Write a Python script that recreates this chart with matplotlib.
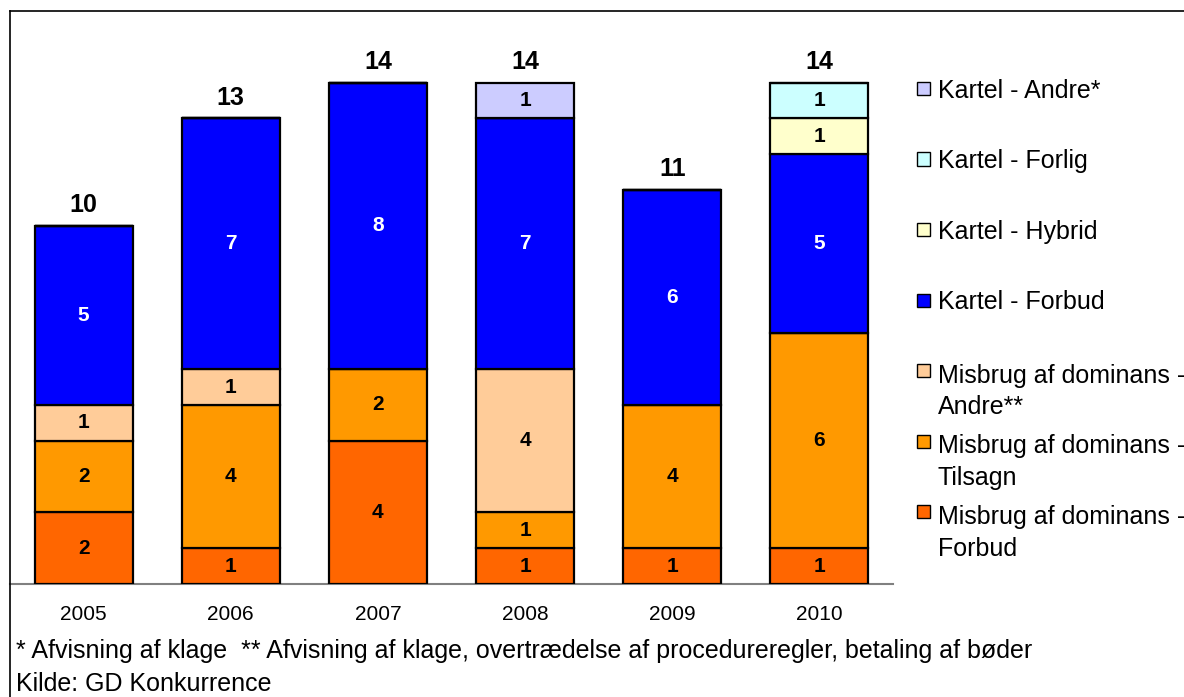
import numpy as np
import matplotlib
matplotlib.use("Agg")
from matplotlib import pyplot as plt
from matplotlib.patches import Rectangle
from matplotlib.lines import Line2D

plt.rcParams["font.family"] = ["Liberation Sans", "DejaVu Sans"]

years = ["2005", "2006", "2007", "2008", "2009", "2010"]

# stacked from the bottom up
series_names = [
    "Misbrug af dominans -\nForbud",
    "Misbrug af dominans -\nTilsagn",
    "Misbrug af dominans -\nAndre**",
    "Kartel - Forbud",
    "Kartel - Hybrid",
    "Kartel - Forlig",
    "Kartel - Andre*",
]
misbrug_forbud = [2, 1, 4, 1, 1, 1]
misbrug_tilsagn = [2, 4, 2, 1, 4, 6]
misbrug_andre = [1, 1, 0, 4, 0, 0]
kartel_forbud = [5, 7, 8, 7, 6, 5]
kartel_hybrid = [0, 0, 0, 0, 0, 1]
kartel_forlig = [0, 0, 0, 0, 0, 1]
kartel_andre = [0, 0, 0, 1, 0, 0]

series_values = [misbrug_forbud, misbrug_tilsagn, misbrug_andre,
                 kartel_forbud, kartel_hybrid, kartel_forlig, kartel_andre]
colors = ["#FF6600", "#FF9900", "#FFCC99", "#0000FF", "#FFFFCC", "#CCFFFF", "#CCCCFF"]
label_colors = ["black", "black", "black", "white", "black", "black", "black"]

W, H = 1184, 697
fig = plt.figure(figsize=(W / 100, H / 100), dpi=100)
fig.patch.set_facecolor("white")
ax = fig.add_axes([10 / W, 1 - 584 / H, 883 / W, 573 / H])

x = np.arange(len(years))
bottom = np.zeros(len(years))
for vals, col, tcol in zip(series_values, colors, label_colors):
    vals = np.array(vals, dtype=float)
    ax.bar(x, vals, 0.667, bottom=bottom, color=col,
           edgecolor="black", linewidth=1.6, zorder=3)
    for xi, b, v in zip(x, bottom, vals):
        if v > 0:
            ax.text(xi, b + v / 2, f"{int(v)}", ha="center", va="center",
                    fontsize=15, fontweight="bold", color=tcol, zorder=4)
    bottom += vals

# totals above each bar
for xi, tot in zip(x, bottom):
    ax.annotate(f"{int(tot)}", (xi, tot), xytext=(0, 10), textcoords="offset points",
                ha="center", va="baseline", fontsize=18, fontweight="bold")

ax.set_xlim(-0.5, len(years) - 0.5)
ax.set_ylim(0, 16)
ax.set_xticks(x)
ax.set_xticklabels(years, fontsize=15)
ax.tick_params(axis="x", length=0, pad=15)
ax.set_yticks([])
for s in ["top", "right", "left"]:
    ax.spines[s].set_visible(False)
ax.spines["bottom"].set_color("#808080")
ax.spines["bottom"].set_linewidth(1.5)
ax.patch.set_alpha(0)

# legend drawn by hand, newest category on top; the square sits on the first text line
ly0, lstep, line_h = 88.5, 70.5, 35
sq = 13
for k, idx in enumerate(range(len(series_names) - 1, -1, -1)):
    yc = ly0 + k * lstep
    n_lines = series_names[idx].count("\n") + 1
    fig.patches.append(Rectangle((917 / W, 1 - (yc + sq / 2) / H), sq / W, sq / H,
                                 transform=fig.transFigure, facecolor=colors[idx],
                                 edgecolor="black", linewidth=1.0))
    fig.text(938 / W, 1 - (yc + 9 + (n_lines - 1) * line_h) / H, series_names[idx],
             ha="left", va="baseline", fontsize=18, linespacing=1.4)

# footnotes
fig.text(16 / W, 1 - 658 / H,
         "* Afvisning af klage  ** Afvisning af klage, overtrædelse af procedureregler, betaling af bøder",
         ha="left", va="baseline", fontsize=18)
fig.text(16 / W, 1 - 691 / H, "Kilde: GD Konkurrence", ha="left", va="baseline", fontsize=18)

# outer frame (top and left edges)
fig.lines.append(Line2D([10 / W, 1], [1 - 11 / H, 1 - 11 / H], transform=fig.transFigure,
                        color="black", linewidth=1.2))
fig.lines.append(Line2D([10 / W, 10 / W], [0, 1 - 11 / H], transform=fig.transFigure,
                        color="black", linewidth=1.2))

fig.savefig("out.png", dpi=100)
